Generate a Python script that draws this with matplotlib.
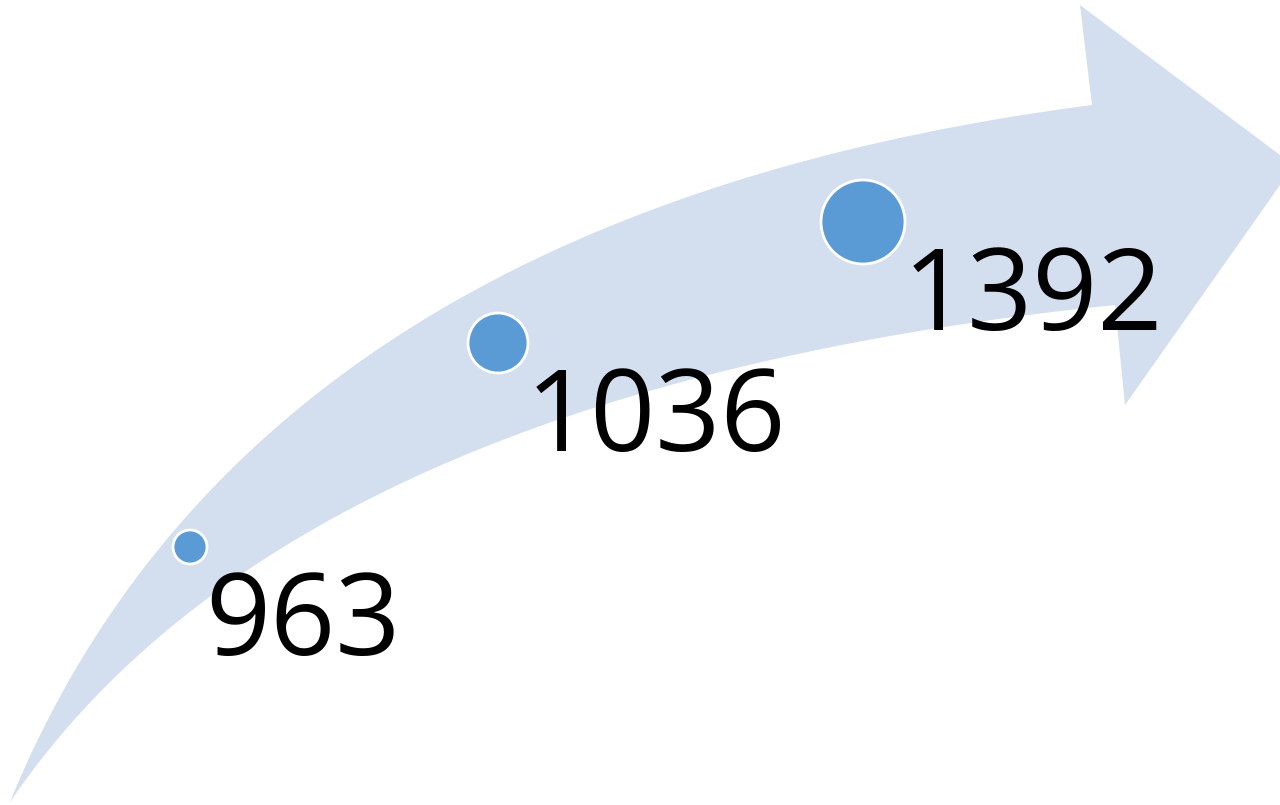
import numpy as np
import matplotlib.pyplot as plt
from matplotlib.patches import Polygon, Circle

# values shown on the arrow
values = [963, 1036, 1392]
labels = [str(v) for v in values]

# layout (pixel space) of the bubbles along the arrow
bubble_x = [190, 498, 863]
bubble_y = [547, 343, 222]
bubble_r = [17, 30, 42]

ARROW_COLOR = '#D3DEEF'
BUBBLE_COLOR = '#5B9BD5'


def bezier(p0, p1, p2, n=200):
    t = np.linspace(0, 1, n)[:, None]
    return (1 - t) ** 2 * np.array(p0) + 2 * (1 - t) * t * np.array(p1) + t ** 2 * np.array(p2)


fig = plt.figure(figsize=(12.8, 8.05), dpi=100)
ax = fig.add_axes([0, 0, 1, 1])
ax.set_xlim(0, 1280)
ax.set_ylim(805, 0)
ax.axis('off')

# Curved arrow body + head
upper = bezier((10, 802), (250, 215), (1092, 105))
lower = bezier((10, 802), (290, 390), (1115, 305))
head = np.array([(1092, 105), (1080, 5), (1280, 155), (1280, 185), (1125, 405), (1115, 305)])
outline = np.vstack([upper, head, lower[::-1]])
ax.add_patch(Polygon(outline, closed=True, facecolor=ARROW_COLOR, edgecolor='none'))

# Bubbles and labels
for x, y, r, lab in zip(bubble_x, bubble_y, bubble_r, labels):
    ax.add_patch(Circle((x, y), r, facecolor=BUBBLE_COLOR, edgecolor='white', linewidth=2, zorder=3))
    ax.text(x + r - 2, y + 108, lab, fontsize=82, family='Open Sans',
            ha='left', va='baseline', color='black', zorder=4)

fig.savefig('out.png', dpi=100)
